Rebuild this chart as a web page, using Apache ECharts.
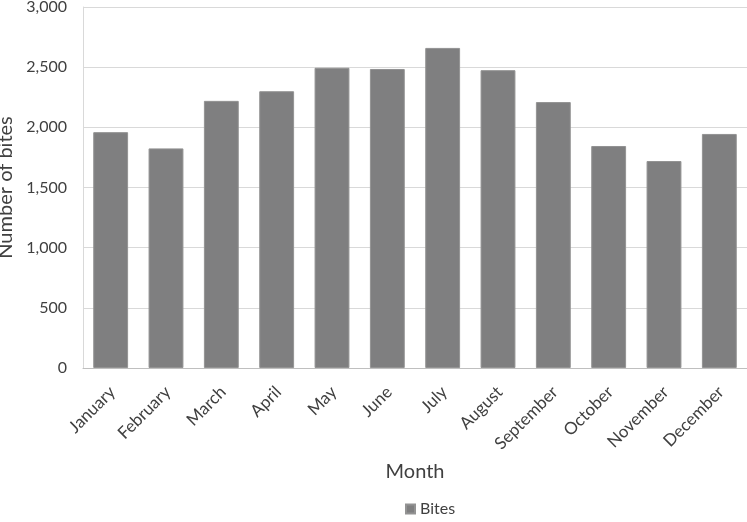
<!DOCTYPE html>
<html><head><meta charset="utf-8">
<script src="https://cdn.jsdelivr.net/npm/echarts@6/dist/echarts.min.js"></script>
<style>html,body{margin:0;padding:0;background:#fff}#c{width:747px;height:522px}</style>
</head><body><div id="c"></div>
<script>
const months = ["January","February","March","April","May","June","July","August","September","October","November","December"];
const bites = [1960, 1825, 2220, 2300, 2495, 2485, 2660, 2475, 2210, 1845, 1720, 1945];
const yTicks = {min: 0, max: 3000, interval: 500};
const font = "Lato, 'Open Sans', sans-serif";
const chart = echarts.init(document.getElementById('c'));
chart.setOption({
  animation: false,
  textStyle: {fontFamily: font},
  grid: {left: 83, right: 0, top: 7, bottom: 154, containLabel: false, outerBoundsMode: 'none'},
  legend: {bottom: 0, left: 400, itemWidth: 9, itemHeight: 9, icon: 'rect', itemGap: 4,
    textStyle: {fontSize: 16, color: '#404040', fontFamily: font}, data: ['Bites']},
  xAxis: {type: 'category', data: months,
    name: 'Month', nameLocation: 'middle', nameGap: 94,
    nameTextStyle: {fontSize: 20, color: '#404040', fontFamily: font},
    axisLine: {lineStyle: {color: '#bfbfbf'}},
    axisTick: {show: false},
    axisLabel: {rotate: 45, fontSize: 17, color: '#404040', margin: 11, interval: 0,
      verticalAlign: 'top', padding: [0, 6, 0, 0], fontFamily: font}},
  yAxis: {type: 'value', min: yTicks.min, max: yTicks.max, interval: yTicks.interval,
    name: 'Number of bites', nameLocation: 'middle', nameGap: 55,
    nameTextStyle: {fontSize: 20, color: '#404040', fontFamily: font},
    axisLine: {show: true, lineStyle: {color: '#d9d9d9'}},
    axisTick: {show: false},
    splitLine: {lineStyle: {color: '#d9d9d9'}},
    axisLabel: {fontSize: 16, color: '#404040', margin: 16, fontFamily: font,
      formatter: v => v.toLocaleString('en-US')}},
  series: [{name: 'Bites', type: 'bar', data: bites, barCategoryGap: '37%',
    itemStyle: {color: '#7f7f80', borderColor: '#939393', borderWidth: 1}}]
});
</script></body></html>
